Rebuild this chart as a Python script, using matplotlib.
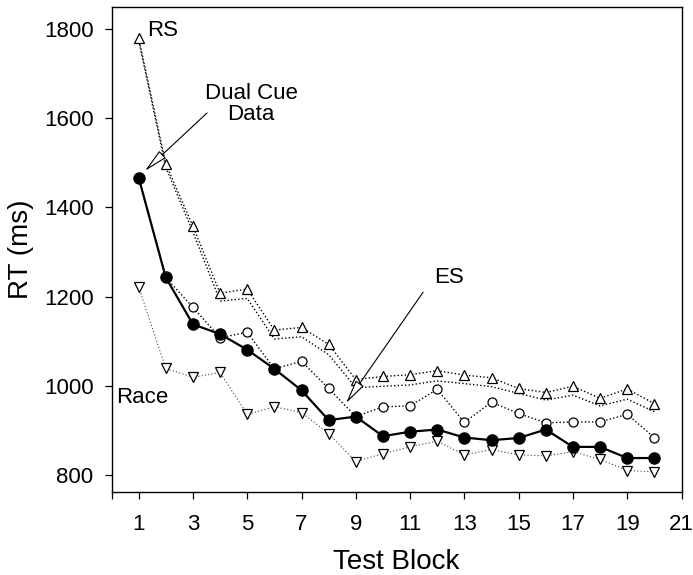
import matplotlib
matplotlib.use("Agg")
import matplotlib.pyplot as plt

plt.rcParams['font.family'] = ['Liberation Sans', 'DejaVu Sans']

blocks = list(range(1, 21))
dual_cue = [1467, 1243, 1138, 1116, 1081, 1038, 990, 923, 931, 887,
            897, 902, 884, 878, 883, 902, 863, 863, 838, 838]
rs = [1780, 1498, 1358, 1208, 1217, 1125, 1131, 1093, 1014, 1021,
      1025, 1034, 1024, 1018, 994, 985, 999, 972, 993, 960]
rs_alt = [1775, 1490, 1345, 1190, 1196, 1105, 1110, 1070, 996, 999,
          1002, 1011, 1005, 998, 983, 968, 979, 955, 970, 942]
es = [1467, 1243, 1176, 1108, 1120, 1038, 1055, 994, 931, 953,
      955, 992, 918, 963, 938, 917, 919, 919, 936, 884]
race = [1222, 1039, 1019, 1030, 936, 953, 940, 893, 830, 848,
        863, 876, 845, 857, 845, 843, 852, 835, 810, 807]
xticks = [0, 1, 3, 5, 7, 9, 11, 13, 15, 17, 19, 21]
xticklabels = ['', '1', '3', '5', '7', '9', '11', '13', '15', '17', '19', '21']
yticks = [800, 1000, 1200, 1400, 1600, 1800]

W, H = 693, 575
fig = plt.figure(figsize=(W / 100, H / 100), dpi=100)
ax = fig.add_axes([111.5 / W, 1 - 491.7 / H, (681.5 - 111.5) / W, (491.7 - 7.3) / H])

dot = (0, (1, 1.6))
ax.plot(blocks, rs_alt, color='black', lw=1.0, ls=dot, zorder=2)
ax.plot(blocks, rs, color='black', lw=1.0, ls=dot, marker='^', ms=6.5,
        mfc='white', mec='black', mew=0.9, zorder=3)
ax.plot(blocks, race, color='#444444', lw=0.8, ls=(0, (1, 2)), marker='v', ms=6.5,
        mfc='white', mec='black', mew=0.9, zorder=3)
ax.plot(blocks, es, color='black', lw=1.0, ls=dot, marker='o', ms=6.5,
        mfc='white', mec='black', mew=0.9, zorder=3)
ax.plot(blocks, dual_cue, color='black', lw=1.6, ls='-', marker='o', ms=8,
        mfc='black', mec='black', zorder=4)

ax.set_xlim(0, 21)
ax.set_ylim(762.5, 1849)
ax.set_xticks(xticks)
ax.set_xticklabels(xticklabels)
ax.set_yticks(yticks)
ax.tick_params(axis='both', direction='out', length=5, width=0.9, labelsize=16)
ax.tick_params(axis='x', pad=11)
ax.tick_params(axis='y', pad=8)
for s in ax.spines.values():
    s.set_linewidth(1.0)

ax.set_xlabel('Test Block', fontsize=20, labelpad=10)
ax.set_ylabel('RT (ms)', fontsize=20, labelpad=7)

arrow = dict(arrowstyle='-|>,head_length=1.5,head_width=0.3', fc='white', ec='black',
             lw=0.8, mutation_scale=10, shrinkA=0, shrinkB=0)
ax.annotate('', xy=(1.23, 1482), xytext=(3.52, 1612), arrowprops=arrow, zorder=5)
ax.annotate('', xy=(8.64, 961), xytext=(11.48, 1210), arrowprops=arrow, zorder=5)

ax.text(5.14, 1632, 'Dual Cue\nData', fontsize=16, ha='center', va='center',
        linespacing=1.05)
ax.text(12.43, 1242, 'ES', fontsize=16, ha='center', va='center')
ax.text(1.31, 1796, 'RS', fontsize=16, ha='left', va='center')
ax.text(1.12, 973, 'Race', fontsize=16, ha='center', va='center')

fig.savefig('out.png', dpi=100)
